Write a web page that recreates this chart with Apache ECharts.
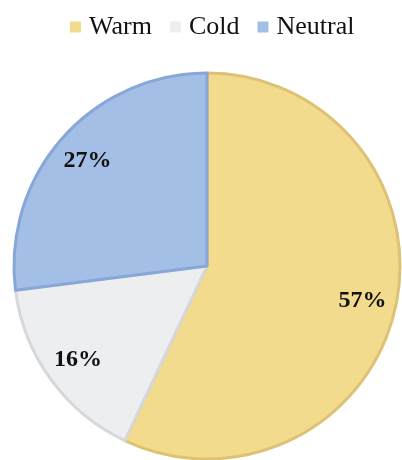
<!DOCTYPE html>
<html>
<head>
<meta charset="utf-8">
<script src="https://cdn.jsdelivr.net/npm/echarts@6/dist/echarts.min.js"></script>
<style>
  html, body { margin: 0; padding: 0; background: #fff; }
  #chart { width: 402px; height: 460px; }
</style>
</head>
<body>
<div id="chart"></div>
<script>
// Share of responses by thermal sensation
const categories = ['Warm', 'Cold', 'Neutral'];
const shares = [57, 16, 27];
const fills = ['#F2DB8C', '#EDEEF0', '#A3BFE6'];
const edges = ['#DDC274', '#D6D8DC', '#87A7D8'];

const center = [207, 266];
const outerRadius = 193;

const pieData = categories.map((name, i) => ({
  name,
  value: shares[i],
  itemStyle: { color: fills[i], borderColor: edges[i] }
}));

const chart = echarts.init(document.getElementById('chart'), null, { renderer: 'canvas' });
chart.setOption({
  animation: false,
  legend: {
    top: 9,
    left: 65,
    itemWidth: 11,
    itemHeight: 11,
    itemGap: 18,
    icon: 'rect',
    itemStyle: { borderWidth: 0 },
    textStyle: { fontFamily: 'Liberation Serif', fontSize: 26, color: '#111', padding: [0, 0, 0, 3] },
    data: categories
  },
  series: [
    {
      type: 'pie',
      center,
      radius: [0, outerRadius],
      startAngle: 90,
      clockwise: true,
      itemStyle: { borderWidth: 3 },
      label: { show: false },
      labelLine: { show: false },
      emphasis: { disabled: true },
      data: pieData
    },
    {
      // ring carrying the percentage labels near the rim
      type: 'pie',
      center,
      radius: [outerRadius * 0.62, outerRadius],
      startAngle: 90,
      clockwise: true,
      silent: true,
      legendHoverLink: false,
      itemStyle: { color: 'rgba(0,0,0,0)', borderWidth: 0 },
      label: {
        show: true,
        position: 'inside',
        formatter: '{c}%',
        fontFamily: 'Liberation Serif',
        fontWeight: 'bold',
        fontSize: 24,
        color: '#111'
      },
      labelLine: { show: false },
      emphasis: { disabled: true },
      data: categories.map((name, i) => ({ name: name + ' ', value: shares[i] }))
    }
  ]
});
</script>
</body>
</html>
